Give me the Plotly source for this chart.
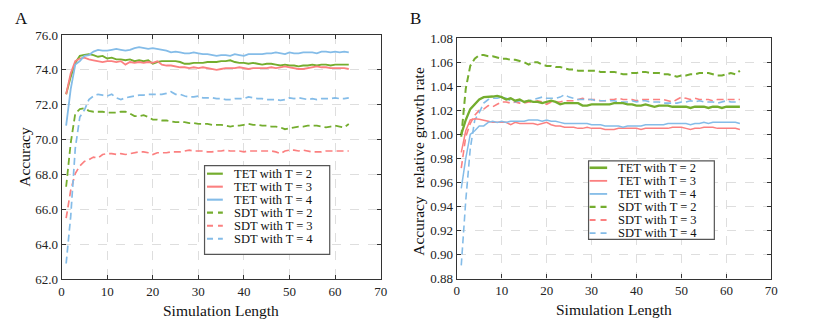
import plotly.graph_objects as go

# ---------------- data ----------------
sim_length = [1, 2, 3, 4, 5, 6, 7, 8, 9, 10, 11, 12, 13, 14, 15, 16, 17, 18, 19, 20,
              21, 22, 23, 24, 25, 26, 27, 28, 29, 30, 31, 32, 33, 34, 35, 36, 37, 38, 39, 40,
              41, 42, 43, 44, 45, 46, 47, 48, 49, 50, 51, 52, 53, 54, 55, 56, 57, 58, 59, 60,
              61, 62, 63]

series_names = ["TET with T = 2", "TET with T = 3", "TET with T = 4",
                "SDT with T = 2", "SDT with T = 3", "SDT with T = 4"]

# Panel A: accuracy
acc_tet_t2 = [72.6, 73.6, 74.4, 74.8, 74.85, 74.9, 74.85, 74.75, 74.8, 74.65, 74.7, 74.6, 74.6, 74.55, 74.6, 74.5, 74.55, 74.5, 74.55, 74.35,
              74.45, 74.5, 74.5, 74.5, 74.5, 74.45, 74.35, 74.35, 74.4, 74.4, 74.4, 74.45, 74.45, 74.45, 74.5, 74.5, 74.55, 74.45, 74.4, 74.4,
              74.35, 74.4, 74.35, 74.3, 74.35, 74.35, 74.3, 74.25, 74.3, 74.25, 74.25, 74.2, 74.25, 74.25, 74.3, 74.25, 74.3, 74.3, 74.25, 74.3,
              74.3, 74.3, 74.3]
acc_tet_t3 = [72.6, 73.8, 74.5, 74.65, 74.7, 74.6, 74.55, 74.5, 74.45, 74.5, 74.5, 74.45, 74.5, 74.3, 74.45, 74.4, 74.45, 74.4, 74.45, 74.4,
              74.5, 74.3, 74.25, 74.25, 74.2, 74.15, 74.15, 74.1, 74.15, 74.1, 74.15, 74.1, 74.05, 74.0, 74.05, 74.1, 74.1, 74.1, 74.15, 74.1,
              74.05, 74.1, 74.1, 74.1, 74.1, 74.15, 74.1, 74.15, 74.2, 74.15, 74.1, 74.05, 74.05, 74.1, 74.15, 74.2, 74.15, 74.15, 74.1, 74.1,
              74.1, 74.1, 74.05]
acc_tet_t4 = [70.8, 72.9, 74.3, 74.5, 74.8, 74.85, 75.05, 75.15, 75.1, 75.1, 75.15, 75.2, 75.15, 75.1, 75.15, 75.25, 75.3, 75.25, 75.2, 75.25,
              75.2, 75.15, 75.1, 75.0, 75.05, 75.0, 74.95, 74.95, 75.0, 74.95, 74.9, 74.9, 74.85, 74.8, 74.85, 74.85, 74.8, 74.9, 74.85, 74.8,
              74.9, 74.9, 74.9, 74.9, 74.95, 74.95, 75.0, 74.95, 74.9, 75.0, 74.95, 74.95, 75.0, 75.0, 75.0, 74.95, 75.05, 75.05, 75.0, 75.05,
              75.0, 75.05, 75.0]
acc_sdt_t2 = [67.3, 69.8, 71.5, 71.75, 71.8, 71.65, 71.6, 71.6, 71.6, 71.55, 71.55, 71.55, 71.6, 71.6, 71.5, 71.35, 71.35, 71.4, 71.3, 71.15,
              71.15, 71.1, 71.1, 71.05, 71.0, 71.0, 71.0, 70.95, 70.95, 70.9, 70.9, 70.9, 70.85, 70.85, 70.85, 70.8, 70.75, 70.8, 70.8, 70.85,
              70.9, 70.85, 70.85, 70.8, 70.8, 70.75, 70.75, 70.7, 70.6, 70.65, 70.7, 70.75, 70.75, 70.8, 70.8, 70.8, 70.75, 70.7, 70.75, 70.8,
              70.75, 70.7, 70.9]
acc_sdt_t3 = [65.5, 67.1, 68.05, 68.5, 68.75, 68.85, 69.0, 68.95, 69.15, 69.2, 69.2, 69.15, 69.2, 69.15, 69.2, 69.25, 69.3, 69.3, 69.25, 69.15,
              69.25, 69.25, 69.25, 69.3, 69.3, 69.3, 69.35, 69.4, 69.35, 69.35, 69.35, 69.3, 69.3, 69.35, 69.35, 69.4, 69.35, 69.35, 69.35, 69.3,
              69.35, 69.35, 69.35, 69.35, 69.35, 69.35, 69.3, 69.2, 69.35, 69.4, 69.4, 69.35, 69.4, 69.35, 69.3, 69.3, 69.3, 69.35, 69.35, 69.35,
              69.35, 69.35, 69.35]
acc_sdt_t4 = [62.9, 65.6, 69.5, 71.3, 71.7, 72.3, 72.5, 72.6, 72.55, 72.5, 72.6, 72.4, 72.3, 72.4, 72.45, 72.5, 72.55, 72.55, 72.6, 72.6,
              72.6, 72.6, 72.65, 72.75, 72.6, 72.6, 72.5, 72.45, 72.45, 72.5, 72.4, 72.4, 72.4, 72.35, 72.35, 72.3, 72.3, 72.35, 72.35, 72.35,
              72.45, 72.4, 72.35, 72.35, 72.3, 72.3, 72.3, 72.25, 72.3, 72.4, 72.35, 72.4, 72.35, 72.3, 72.35, 72.3, 72.35, 72.35, 72.35, 72.4,
              72.35, 72.35, 72.4]

# Panel B: accuracy relative growth rate
rgr_tet_t2 = [1.000, 1.012, 1.021, 1.025, 1.029, 1.031, 1.031, 1.0315, 1.032, 1.031, 1.029, 1.030, 1.028, 1.029, 1.027, 1.028, 1.027, 1.027, 1.026, 1.027,
              1.028, 1.027, 1.025, 1.026, 1.026, 1.026, 1.026, 1.024, 1.024, 1.025, 1.025, 1.025, 1.025, 1.025, 1.026, 1.026, 1.026, 1.025, 1.025, 1.024,
              1.024, 1.025, 1.024, 1.023, 1.024, 1.024, 1.024, 1.023, 1.023, 1.023, 1.023, 1.022, 1.023, 1.023, 1.023, 1.022, 1.023, 1.023, 1.022, 1.023,
              1.023, 1.023, 1.023]
rgr_tet_t3 = [0.985, 1.003, 1.012, 1.013, 1.0125, 1.012, 1.011, 1.010, 1.010, 1.010, 1.010, 1.008, 1.010, 1.009, 1.009, 1.009, 1.009, 1.008, 1.009, 1.010,
              1.008, 1.007, 1.007, 1.006, 1.006, 1.006, 1.005, 1.005, 1.006, 1.005, 1.005, 1.005, 1.004, 1.004, 1.004, 1.005, 1.005, 1.005, 1.005, 1.005,
              1.004, 1.005, 1.005, 1.005, 1.005, 1.005, 1.005, 1.006, 1.006, 1.006, 1.005, 1.004, 1.005, 1.005, 1.006, 1.006, 1.006, 1.005, 1.005, 1.005,
              1.005, 1.005, 1.004]
rgr_tet_t4 = [0.955, 0.980, 1.000, 1.003, 1.007, 1.007, 1.010, 1.011, 1.010, 1.011, 1.010, 1.011, 1.011, 1.011, 1.011, 1.012, 1.012, 1.012, 1.011, 1.012,
              1.011, 1.011, 1.010, 1.009, 1.009, 1.009, 1.009, 1.009, 1.009, 1.008, 1.008, 1.008, 1.007, 1.007, 1.007, 1.007, 1.006, 1.007, 1.007, 1.007,
              1.007, 1.008, 1.008, 1.008, 1.008, 1.008, 1.009, 1.009, 1.009, 1.009, 1.009, 1.008, 1.009, 1.009, 1.010, 1.009, 1.010, 1.010, 1.010, 1.010,
              1.010, 1.010, 1.009]
rgr_sdt_t2 = [0.998, 1.038, 1.057, 1.063, 1.066, 1.066, 1.065, 1.065, 1.064, 1.063, 1.063, 1.062, 1.062, 1.061, 1.060, 1.058, 1.060, 1.060, 1.058, 1.057,
              1.057, 1.056, 1.056, 1.055, 1.054, 1.054, 1.053, 1.053, 1.053, 1.053, 1.053, 1.052, 1.052, 1.052, 1.052, 1.051, 1.050, 1.050, 1.051, 1.051,
              1.052, 1.052, 1.051, 1.051, 1.051, 1.050, 1.050, 1.049, 1.048, 1.049, 1.049, 1.050, 1.050, 1.051, 1.051, 1.051, 1.050, 1.049, 1.049, 1.050,
              1.051, 1.050, 1.053]
rgr_sdt_t3 = [0.972, 0.998, 1.009, 1.016, 1.020, 1.021, 1.024, 1.023, 1.025, 1.027, 1.027, 1.026, 1.027, 1.026, 1.026, 1.027, 1.027, 1.028, 1.027, 1.025,
              1.027, 1.027, 1.027, 1.028, 1.028, 1.028, 1.029, 1.030, 1.029, 1.029, 1.029, 1.028, 1.028, 1.029, 1.029, 1.030, 1.029, 1.029, 1.029, 1.028,
              1.029, 1.029, 1.029, 1.029, 1.029, 1.029, 1.028, 1.027, 1.029, 1.031, 1.030, 1.029, 1.030, 1.029, 1.029, 1.029, 1.028, 1.029, 1.029, 1.029,
              1.029, 1.029, 1.029]
rgr_sdt_t4 = [0.891, 0.945, 0.988, 1.012, 1.018, 1.026, 1.029, 1.030, 1.030, 1.031, 1.030, 1.028, 1.027, 1.028, 1.027, 1.028, 1.029, 1.030, 1.031, 1.030,
              1.030, 1.030, 1.031, 1.033, 1.031, 1.030, 1.029, 1.029, 1.029, 1.029, 1.028, 1.028, 1.028, 1.028, 1.028, 1.027, 1.027, 1.027, 1.028, 1.027,
              1.028, 1.028, 1.027, 1.027, 1.027, 1.026, 1.026, 1.026, 1.026, 1.027, 1.027, 1.028, 1.027, 1.028, 1.027, 1.027, 1.027, 1.026, 1.027, 1.028,
              1.027, 1.027, 1.027]

x_ticks = [0, 10, 20, 30, 40, 50, 60, 70]
acc_ticks = [62, 64, 66, 68, 70, 72, 74, 76]
rgr_ticks = [0.88, 0.90, 0.92, 0.94, 0.96, 0.98, 1.00, 1.02, 1.04, 1.06, 1.08]

# ---------------- styling ----------------
W, H = 831, 335
FONT = "Liberation Serif, Times New Roman, Times, serif"
GREEN, RED, BLUE = "#74ad2e", "#fb8080", "#84bce8"
DASH = "7px,4px"
colors = [GREEN, RED, BLUE, GREEN, RED, BLUE]
dashes = ["solid", "solid", "solid", DASH, DASH, DASH]

def px_x(p):
    return p / W

def px_y(p):
    return 1 - p / H

fig = go.Figure()

acc_series = [acc_tet_t2, acc_tet_t3, acc_tet_t4, acc_sdt_t2, acc_sdt_t3, acc_sdt_t4]
rgr_series = [rgr_tet_t2, rgr_tet_t3, rgr_tet_t4, rgr_sdt_t2, rgr_sdt_t3, rgr_sdt_t4]
widths_a = [1.9, 1.8, 1.8, 1.8, 1.7, 1.7]
widths_b = [2.3, 1.5, 1.5, 2.0, 1.6, 1.6]

# draw order: dashed first, solid on top
order = [3, 4, 5, 0, 1, 2]
for i in order:
    fig.add_trace(go.Scatter(x=sim_length, y=acc_series[i], mode="lines", name=series_names[i],
                             line=dict(color=colors[i], width=widths_a[i], dash=dashes[i]),
                             xaxis="x", yaxis="y", showlegend=False))
for i in order:
    fig.add_trace(go.Scatter(x=sim_length, y=rgr_series[i], mode="lines", name=series_names[i],
                             line=dict(color=colors[i], width=widths_b[i], dash=dashes[i]),
                             xaxis="x2", yaxis="y2", showlegend=False))

axis_common = dict(
    showline=True, linecolor="#333333", linewidth=1.2, mirror="ticks",
    ticks="inside", ticklen=4, tickwidth=1, tickcolor="#333333",
    showgrid=True, gridcolor="#dedede", gridwidth=1, griddash="dash",
    zeroline=False,
    tickfont=dict(family=FONT, size=13, color="#222222"),
)

# pixel boxes of plot areas
A_box = (59.3, 382.3, 29.3, 285.0)
B_box = (459.3, 777.7, 32.7, 284.3)

fig.update_layout(
    width=W, height=H,
    margin=dict(l=0, r=0, t=0, b=0),
    paper_bgcolor="white", plot_bgcolor="white",
    showlegend=False,
    font=dict(family=FONT),
    xaxis=dict(domain=[px_x(A_box[0]), px_x(A_box[1])], range=[0, 70], tickvals=x_ticks,
               anchor="y", **axis_common),
    yaxis=dict(domain=[px_y(A_box[3]), px_y(A_box[2])], range=[62, 76], tickvals=acc_ticks,
               tickformat=".1f", anchor="x", **axis_common),
    xaxis2=dict(domain=[px_x(B_box[0]), px_x(B_box[1])], range=[0, 70], tickvals=x_ticks,
                anchor="y2", **axis_common),
    yaxis2=dict(domain=[px_y(B_box[3]), px_y(B_box[2])], range=[0.88, 1.08], tickvals=rgr_ticks,
                tickformat=".2f", anchor="x2", **axis_common),
)

annotations = []
shapes = []

def text_ann(x, y, text, size, angle=0, xanchor="center", yanchor="middle"):
    annotations.append(dict(x=px_x(x), y=px_y(y), xref="paper", yref="paper", text=text,
                            showarrow=False, textangle=angle, xanchor=xanchor, yanchor=yanchor,
                            borderpad=0,
                            font=dict(family=FONT, size=size, color="#111111")))

# panel labels
text_ann(19, 12, "A", 17)
text_ann(418, 12, "B", 17)
# axis titles
text_ann((A_box[0] + A_box[1]) / 2, 318, "Simulation Length", 15.5)
text_ann((B_box[0] + B_box[1]) / 2, 317, "Simulation Length", 15.5)
text_ann(22, 157, "Accuracy", 15.5, angle=-90)
text_ann(421, 161, "Accuracy\u00a0 relative growth rate", 15.5, angle=-90)

# custom legends
def legend(box, rows, line_x, text_x, widths):
    x0, x1, y0, y1 = box
    shapes.append(dict(type="rect", xref="paper", yref="paper",
                       x0=px_x(x0), x1=px_x(x1), y0=px_y(y1), y1=px_y(y0),
                       line=dict(color="#555555", width=1.2), fillcolor="white", layer="above"))
    for k in range(6):
        yy = rows[k]
        shapes.append(dict(type="line", xref="paper", yref="paper",
                           x0=px_x(line_x[0]), x1=px_x(line_x[1]), y0=px_y(yy), y1=px_y(yy),
                           line=dict(color=colors[k], width=widths[k] + 0.3,
                                     dash=("solid" if dashes[k] == "solid" else "6px,5px")),
                           layer="above"))
        annotations.append(dict(x=px_x(text_x), y=px_y(yy), xref="paper", yref="paper",
                                text=series_names[k], showarrow=False, xanchor="left",
                                yanchor="middle", borderpad=0,
                                font=dict(family=FONT, size=12.5, color="#111111")))

legend((204, 330.7, 166, 259), [174.5, 188.1, 201.7, 215.3, 228.9, 242.5], (206.5, 222.5), 232.5, widths_a)
legend((592.7, 720, 161, 243.3), [168.3, 182, 195.7, 209.3, 223, 236.7], (593.7, 611.5), 621.5, widths_b)

fig.update_layout(annotations=annotations, shapes=shapes)
fig.write_html("out.html", config={"displayModeBar": False},
               post_script="document.body.style.margin='0';document.body.style.overflow='hidden';")
